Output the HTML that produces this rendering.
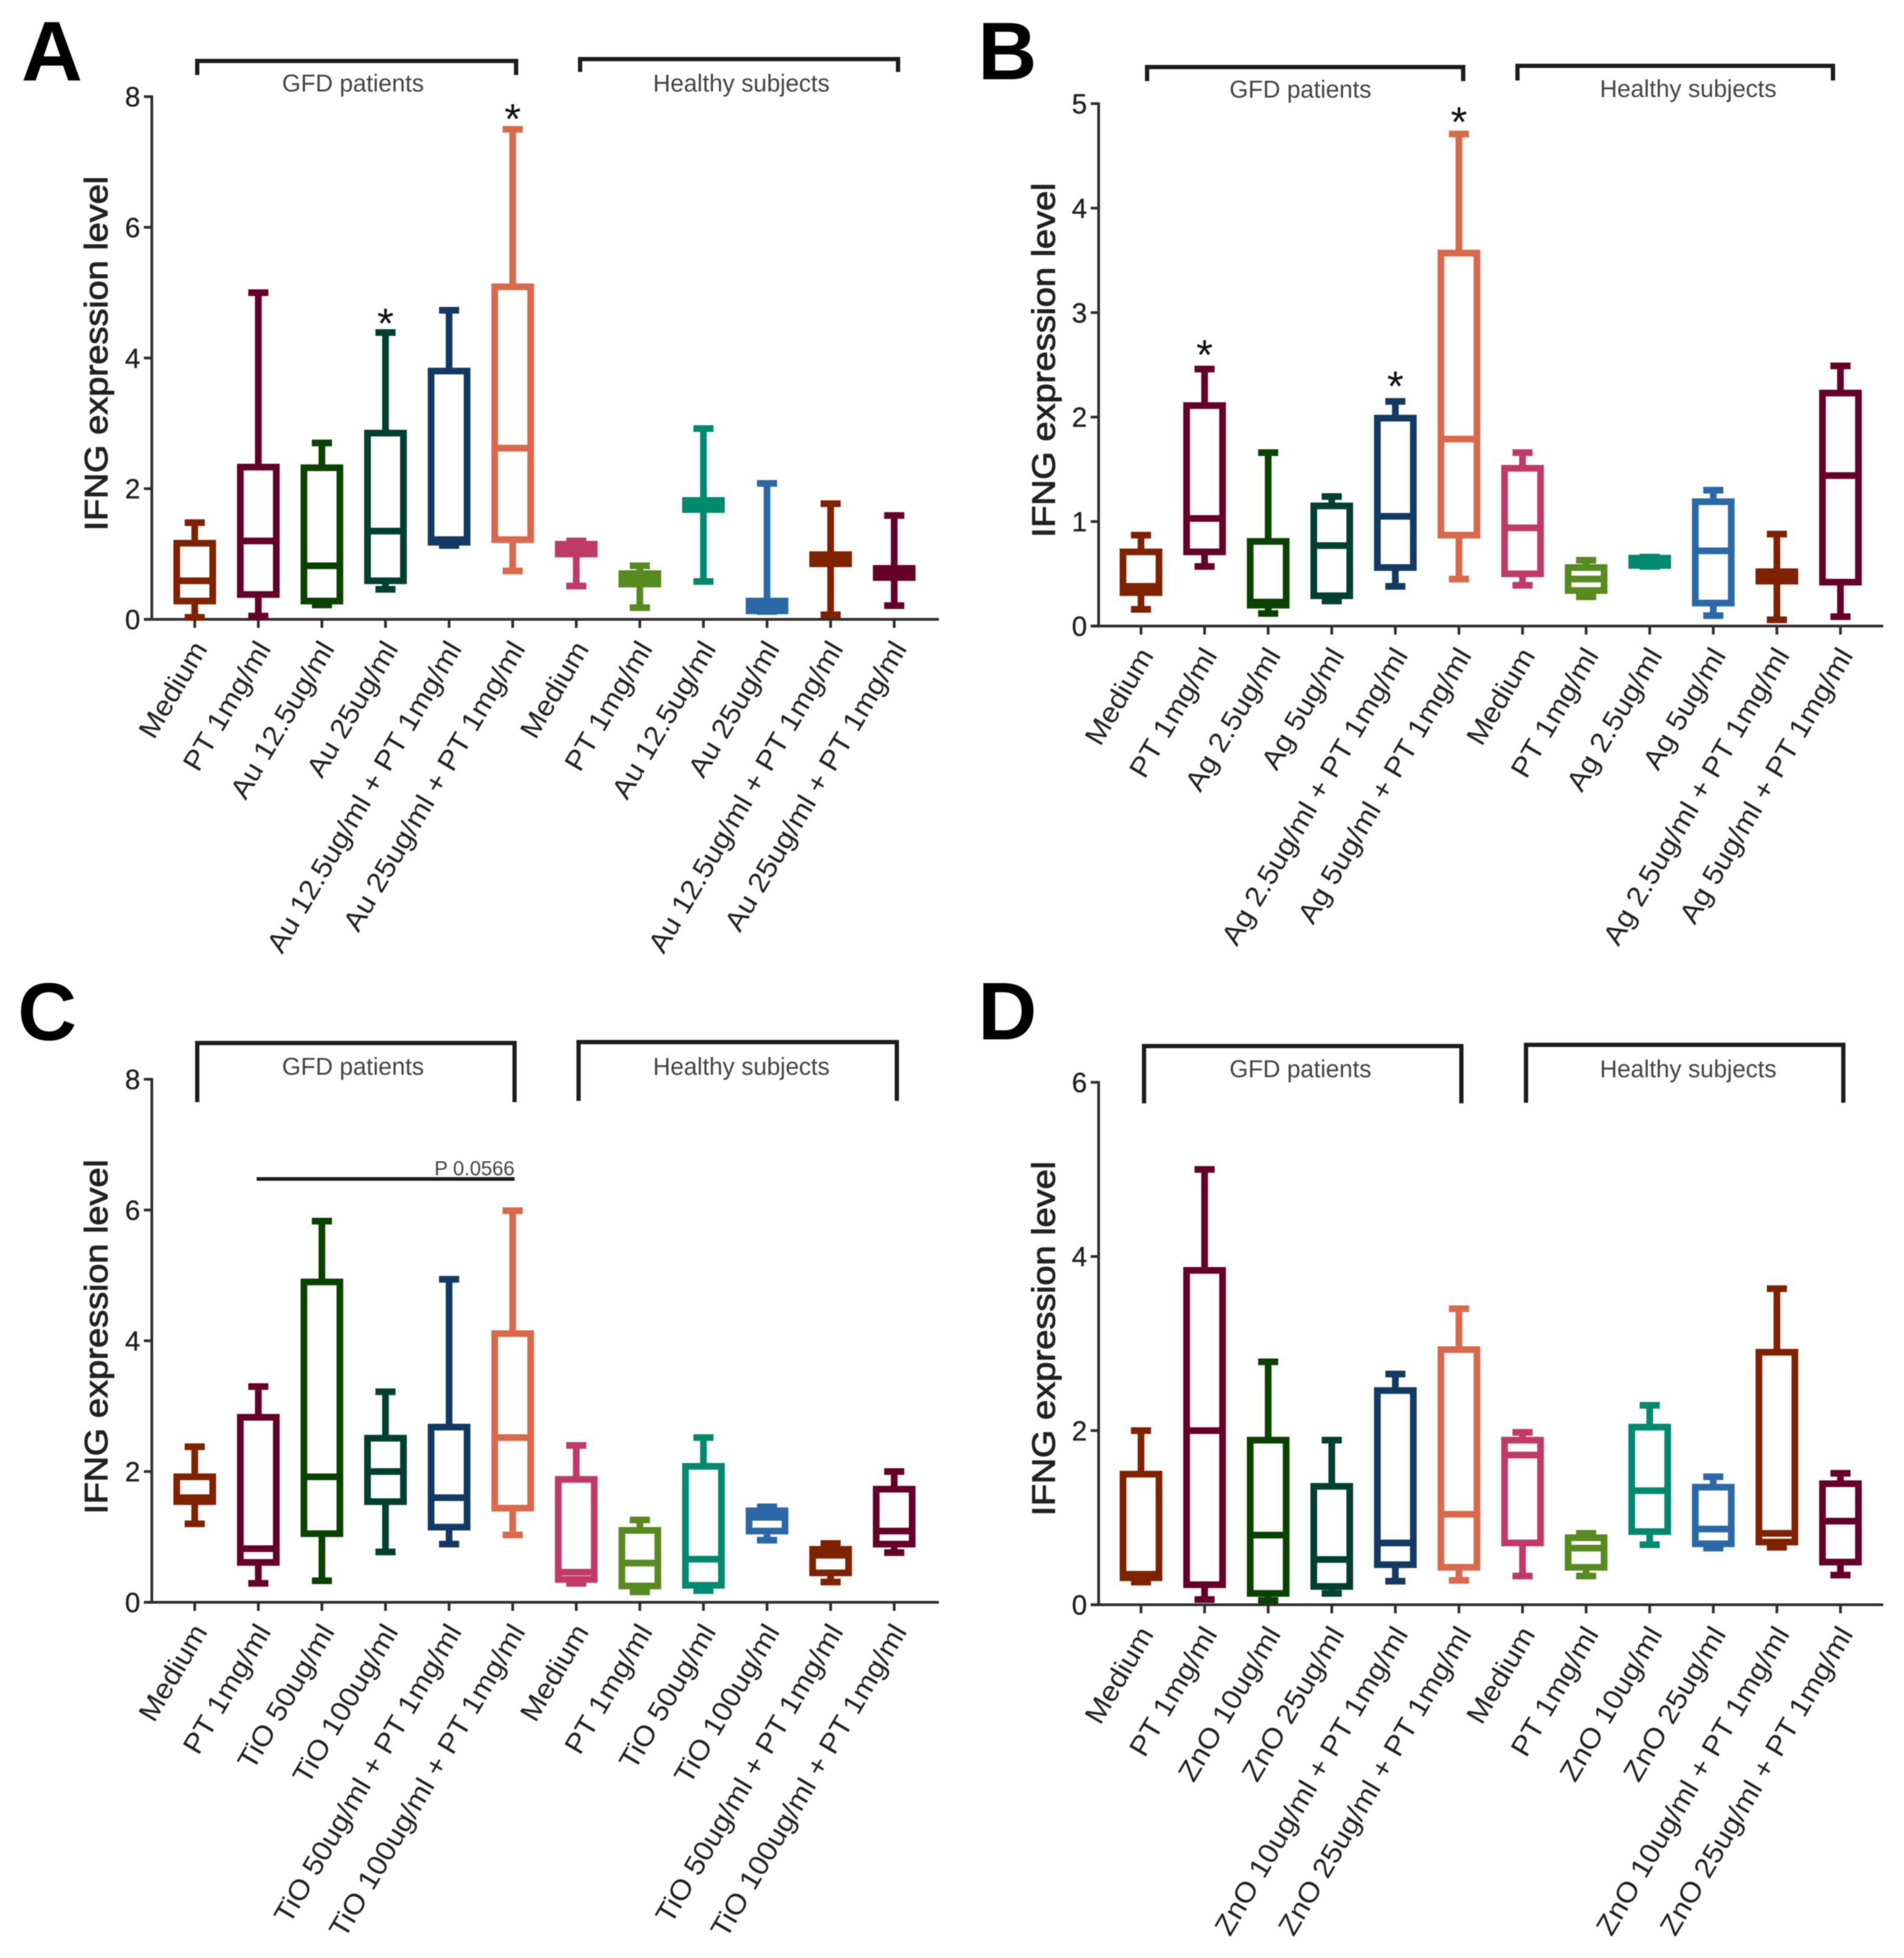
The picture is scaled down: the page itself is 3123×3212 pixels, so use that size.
<!DOCTYPE html>
<html lang="en">
<head>
<meta charset="utf-8">
<title>IFNG expression level box plots</title>
<style>
html,body{margin:0;padding:0;background:#fff;}
svg{display:block;filter:blur(0.9px);font-family:"Liberation Sans",sans-serif;}
.grp{font-size:39.5px;fill:#444;text-anchor:middle;}
.letter{font-size:134px;font-weight:bold;fill:#000;}
.br{fill:none;stroke:#1c1c1c;stroke-width:7;}
</style>
</head>
<body>
<svg id="chart" xmlns="http://www.w3.org/2000/svg" width="3123" height="3212" viewBox="0 0 3123 3212">
<rect width="3123" height="3212" fill="#fff"/>
<text class="letter" x="35" y="132" style="font-size:139px">A</text>
<text class="letter" x="1604" y="130">B</text>
<text class="letter" x="29" y="1706">C</text>
<text class="letter" x="1604" y="1705">D</text>

<path class="br" d="M323.5 123V100H846.5V123"/>
<path class="br" d="M951.5 118V97H1473V118"/>
<text class="grp" x="579" y="150">GFD patients</text>
<text class="grp" x="1216" y="150">Healthy subjects</text>

<path class="br" d="M1881.5 133V110H2400V133"/>
<path class="br" d="M2489 132V108H3006.5V132"/>
<text class="grp" x="2133" y="160">GFD patients</text>
<text class="grp" x="2769" y="159">Healthy subjects</text>

<path class="br" d="M323.5 1808V1711H844V1808"/>
<path class="br" d="M949 1806V1709.5H1471V1806"/>
<text class="grp" x="579" y="1763">GFD patients</text>
<text class="grp" x="1216" y="1763">Healthy subjects</text>

<path class="br" d="M1876.5 1810V1716H2397V1810"/>
<path class="br" d="M2503 1809V1714H3023.5V1809"/>
<text class="grp" x="2133" y="1767">GFD patients</text>
<text class="grp" x="2769" y="1767">Healthy subjects</text>

<line x1="421" y1="1934" x2="844" y2="1934" stroke="#1c1c1c" stroke-width="6"/>
<text x="844" y="1928" text-anchor="end" font-size="33" fill="#444">P 0.0566</text>
</svg>

<script>
// ---------- shared data ----------
const seriesColors = ['#7f2200','#650028','#0a4200','#00402f','#123a63','#d9694a','#bf3a66','#578a1f','#008a6e','#2a68a8','#7f2200','#650028'];
const yTitle = 'IFNG expression level';

// ---------- panel A ----------
const categoriesA = ['Medium','PT 1mg/ml','Au 12.5ug/ml','Au 25ug/ml','Au 12.5ug/ml + PT 1mg/ml','Au 25ug/ml + PT 1mg/ml','Medium','PT 1mg/ml','Au 12.5ug/ml','Au 25ug/ml','Au 12.5ug/ml + PT 1mg/ml','Au 25ug/ml + PT 1mg/ml'];
const yTicksA = [0,2,4,6,8];
const whiskerHighA = [1.48,5.0,2.7,4.39,4.73,7.5,1.2,0.82,2.92,2.08,1.77,1.59];
const q3A = [1.165,2.33,2.32,2.85,3.8,5.09,1.15,0.7,1.82,0.28,0.99,0.78];
const medianA = [0.59,1.2,0.82,1.35,1.22,2.62,1.1,0.63,1.75,0.2,0.92,0.72];
const q1A = [0.28,0.38,0.28,0.59,1.18,1.22,1.0,0.54,1.68,0.13,0.85,0.64];
const whiskerLowA = [0.03,0.05,0.22,0.46,1.13,0.74,0.51,0.18,0.58,0.12,0.07,0.21];
const starIndexA = [3,5];
const starValueA = [4.63,7.76];

// ---------- panel B ----------
const categoriesB = ['Medium','PT 1mg/ml','Ag 2.5ug/ml','Ag 5ug/ml','Ag 2.5ug/ml + PT 1mg/ml','Ag 5ug/ml + PT 1mg/ml','Medium','PT 1mg/ml','Ag 2.5ug/ml','Ag 5ug/ml','Ag 2.5ug/ml + PT 1mg/ml','Ag 5ug/ml + PT 1mg/ml'];
const yTicksB = [0,1,2,3,4,5];
const whiskerHighB = [0.87,2.46,1.66,1.24,2.15,4.71,1.66,0.63,0.66,1.3,0.88,2.49];
const q3B = [0.71,2.11,0.81,1.15,1.99,3.57,1.51,0.56,0.65,1.19,0.52,2.23];
const medianB = [0.38,1.03,0.23,0.77,1.05,1.79,0.94,0.45,0.62,0.72,0.47,1.44];
const q1B = [0.32,0.71,0.2,0.29,0.56,0.87,0.5,0.34,0.58,0.22,0.43,0.42];
const whiskerLowB = [0.16,0.57,0.12,0.24,0.38,0.45,0.39,0.28,0.57,0.1,0.06,0.09];
const starIndexB = [1,4,5];
const starValueB = [2.66,2.36,4.89];

// ---------- panel C ----------
const categoriesC = ['Medium','PT 1mg/ml','TiO 50ug/ml','TiO 100ug/ml','TiO 50ug/ml + PT 1mg/ml','TiO 100ug/ml + PT 1mg/ml','Medium','PT 1mg/ml','TiO 50ug/ml','TiO 100ug/ml','TiO 50ug/ml + PT 1mg/ml','TiO 100ug/ml + PT 1mg/ml'];
const yTicksC = [0,2,4,6,8];
const whiskerHighC = [2.38,3.3,5.83,3.22,4.94,5.99,2.4,1.26,2.52,1.46,0.9,2.0];
const q3C = [1.92,2.83,4.9,2.51,2.68,4.11,1.88,1.1,2.08,1.4,0.81,1.73];
const medianC = [1.6,0.82,1.92,2.0,1.6,2.52,0.46,0.6,0.66,1.3,0.72,1.09];
const q1C = [1.54,0.61,1.05,1.54,1.15,1.44,0.35,0.25,0.26,1.09,0.45,0.89];
const whiskerLowC = [1.2,0.29,0.33,0.77,0.89,1.03,0.29,0.16,0.18,0.95,0.31,0.76];
const starIndexC = [];
const starValueC = [];

// ---------- panel D ----------
const categoriesD = ['Medium','PT 1mg/ml','ZnO 10ug/ml','ZnO 25ug/ml','ZnO 10ug/ml + PT 1mg/ml','ZnO 25ug/ml + PT 1mg/ml','Medium','PT 1mg/ml','ZnO 10ug/ml','ZnO 25ug/ml','ZnO 10ug/ml + PT 1mg/ml','ZnO 25ug/ml + PT 1mg/ml'];
const yTicksD = [0,2,4,6];
const whiskerHighD = [2.0,5.0,2.79,1.89,2.65,3.4,1.98,0.82,2.29,1.47,3.63,1.51];
const q3D = [1.5,3.84,1.89,1.36,2.46,2.93,1.89,0.77,2.04,1.35,2.9,1.39];
const medianD = [0.35,2.0,0.8,0.52,0.71,1.04,1.72,0.65,1.31,0.87,0.82,0.96];
const q1D = [0.31,0.23,0.13,0.21,0.46,0.43,0.71,0.43,0.84,0.7,0.72,0.49];
const whiskerLowD = [0.26,0.06,0.05,0.13,0.27,0.28,0.33,0.33,0.69,0.65,0.66,0.34];
const starIndexD = [];
const starValueD = [];

const SVGNS = 'http://www.w3.org/2000/svg';
const root = document.getElementById('chart');

function make(tag, attrs, parent) {
  const node = document.createElementNS(SVGNS, tag);
  for (const k in attrs) node.setAttribute(k, attrs[k]);
  parent.appendChild(node);
  return node;
}

function drawPanel(cfg) {
  const yPx = v => cfg.y0 - (v / cfg.yMax) * (cfg.y0 - cfg.yTop);
  const xPx = i => cfg.xFirst + cfg.xStep * i;
  const AX = '#2e2e2e';
  const BOXW = 59, CAPW = 33, SW = 11;

  const g = make('g', {}, root);
  
  

  const yAxis = make('line', {x1: cfg.axisX, x2: cfg.axisX, y1: cfg.yTop - 2, y2: cfg.y0 + 2, stroke: AX, 'stroke-width': 4.5}, g);
  
  

  const xAxis = make('line', {x1: cfg.axisX - 13, x2: cfg.xEnd, y1: cfg.y0, y2: cfg.y0, stroke: AX, 'stroke-width': 4.5}, g);
  
  

  const title = make('text', {
    transform: 'translate(' + cfg.titleX + ',' + cfg.titleY + ') rotate(-90)',
    'text-anchor': 'middle', 'font-size': 53, fill: '#222', stroke: '#222', 'stroke-width': 1.3,
    textLength: 582, lengthAdjust: 'spacingAndGlyphs'
  }, g);
  title.textContent = yTitle;
  
  

  cfg.yTicks.forEach(t => {
    const tick = make('line', {x1: cfg.axisX - 13, x2: cfg.axisX, y1: yPx(t), y2: yPx(t), stroke: AX, 'stroke-width': 4.5}, g);
    
    
    const lab = make('text', {x: cfg.axisX - 19, y: yPx(t) + 16, 'text-anchor': 'end', 'font-size': 45, fill: '#222', stroke: '#222', 'stroke-width': 0.5}, g);
    lab.textContent = String(t);
    
    
  });

  cfg.categories.forEach((cat, i) => {
    const cx = xPx(i);
    const color = seriesColors[i];

    const tick = make('line', {x1: cx, x2: cx, y1: cfg.y0, y2: cfg.y0 + 14, stroke: AX, 'stroke-width': 4.5}, g);
    
    

    const lab = make('text', {
      transform: 'translate(' + (cx + 22) + ',' + (cfg.y0 + 48) + ') rotate(-59.5) scale(1.07,1)',
      'text-anchor': 'end', 'font-size': 46, fill: '#222'
    }, g);
    lab.textContent = cat;
    
    

    const box = make('g', {}, g);
    
    

    const hi = yPx(cfg.high[i]), q3 = yPx(cfg.q3[i]), med = yPx(cfg.median[i]), q1 = yPx(cfg.q1[i]), lo = yPx(cfg.low[i]);

    const whiskerUp = make('line', {x1: cx, x2: cx, y1: hi, y2: q3, stroke: color, 'stroke-width': SW}, box);
    
    

    const whiskerDown = make('line', {x1: cx, x2: cx, y1: q1, y2: lo, stroke: color, 'stroke-width': SW}, box);
    
    

    const capUp = make('line', {x1: cx - CAPW / 2, x2: cx + CAPW / 2, y1: hi, y2: hi, stroke: color, 'stroke-width': SW}, box);
    
    

    const capDown = make('line', {x1: cx - CAPW / 2, x2: cx + CAPW / 2, y1: lo, y2: lo, stroke: color, 'stroke-width': SW}, box);
    
    

    const rect = make('rect', {x: cx - BOXW / 2, y: q3, width: BOXW, height: Math.max(q1 - q3, 0.5), fill: '#fff', stroke: color, 'stroke-width': SW}, box);
    
    

    const medLine = make('line', {x1: cx - BOXW / 2, x2: cx + BOXW / 2, y1: med, y2: med, stroke: color, 'stroke-width': SW}, box);
    
    
  });

  cfg.starIndex.forEach((idx, k) => {
    const star = make('text', {x: xPx(idx), y: yPx(cfg.starValue[k]) + 35, 'text-anchor': 'middle', 'font-size': 70, fill: '#111'}, g);
    star.textContent = '*';
    
    
  });
}

drawPanel({id: 'a', categories: categoriesA, yTicks: yTicksA, yMax: 8, high: whiskerHighA, q3: q3A, median: medianA, q1: q1A, low: whiskerLowA, starIndex: starIndexA, starValue: starValueA,
  axisX: 249, y0: 1016, yTop: 158.5, xFirst: 319.4, xStep: 104.3, xEnd: 1540, titleX: 176, titleY: 580});
drawPanel({id: 'b', categories: categoriesB, yTicks: yTicksB, yMax: 5, high: whiskerHighB, q3: q3B, median: medianB, q1: q1B, low: whiskerLowB, starIndex: starIndexB, starValue: starValueB,
  axisX: 1802, y0: 1027, yTop: 170, xFirst: 1871.5, xStep: 104.3, xEnd: 3089, titleX: 1730, titleY: 591});
drawPanel({id: 'c', categories: categoriesC, yTicks: yTicksC, yMax: 8, high: whiskerHighC, q3: q3C, median: medianC, q1: q1C, low: whiskerLowC, starIndex: starIndexC, starValue: starValueC,
  axisX: 249, y0: 2628.5, yTop: 1770.5, xFirst: 319.4, xStep: 104.3, xEnd: 1540, titleX: 176, titleY: 2193});
drawPanel({id: 'd', categories: categoriesD, yTicks: yTicksD, yMax: 6, high: whiskerHighD, q3: q3D, median: medianD, q1: q1D, low: whiskerLowD, starIndex: starIndexD, starValue: starValueD,
  axisX: 1802, y0: 2632.5, yTop: 1775.5, xFirst: 1871.5, xStep: 104.3, xEnd: 3089, titleX: 1730, titleY: 2196});
</script>
</body>
</html>
